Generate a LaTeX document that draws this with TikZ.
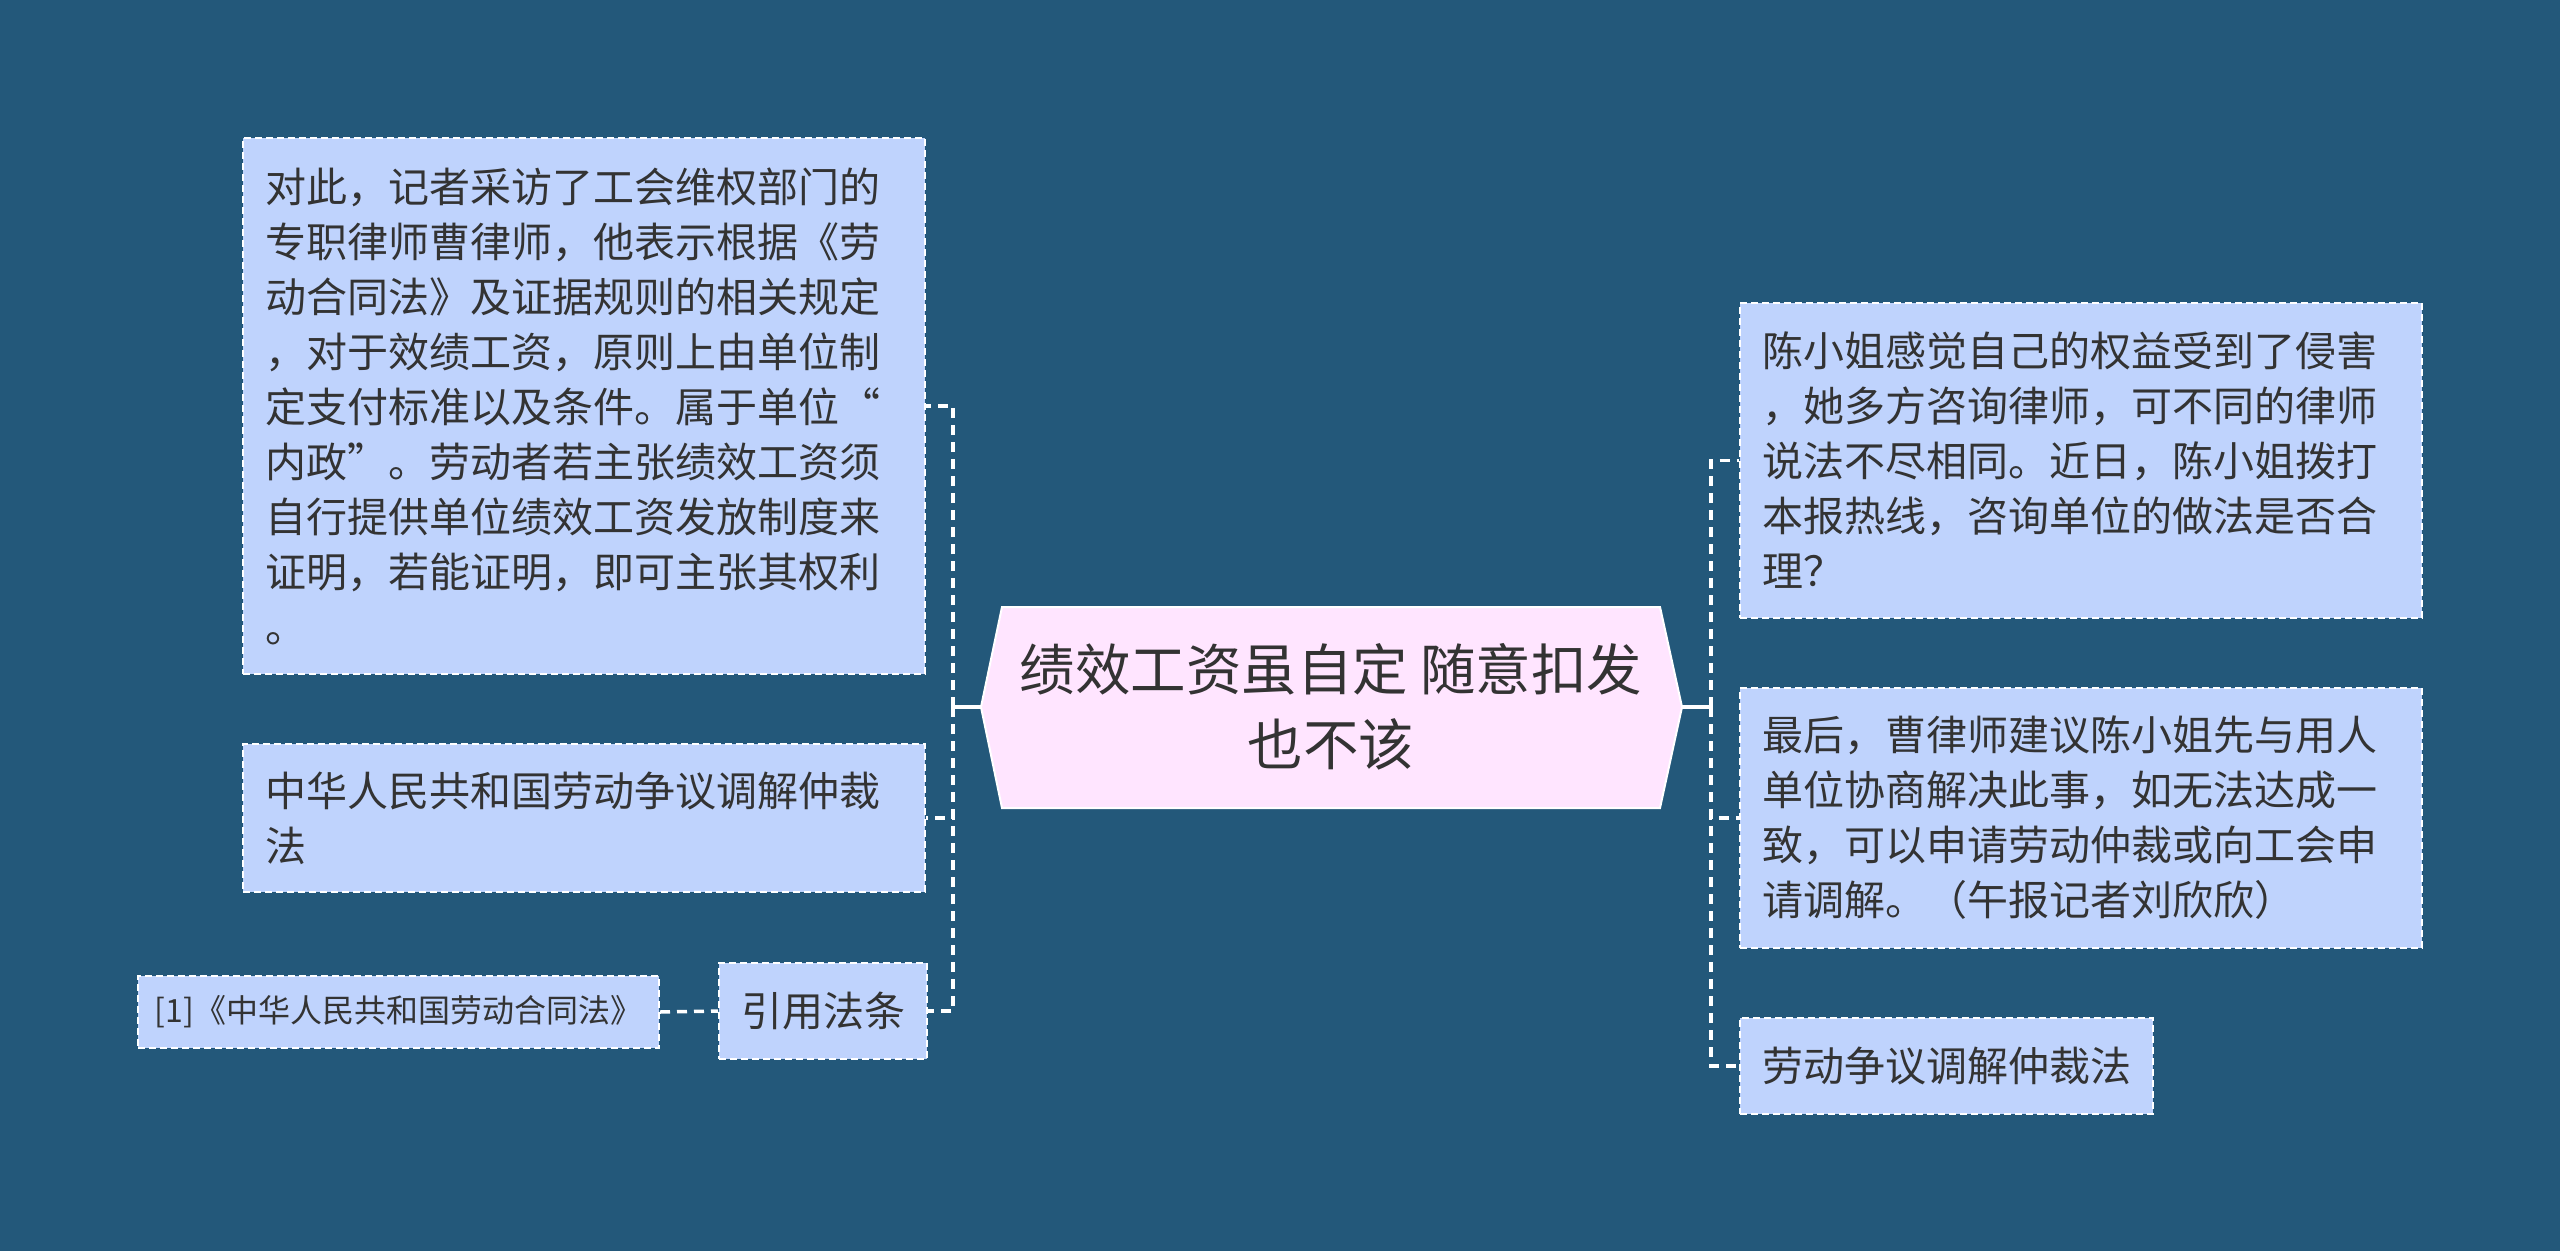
\documentclass[tikz,border=0pt]{standalone}
\usepackage{fontspec}
\setmainfont{Noto Sans CJK SC}
\definecolor{bg}{RGB}{35,88,122}
\definecolor{boxfill}{RGB}{191,211,253}
\definecolor{centerfill}{RGB}{255,229,255}
\definecolor{txt}{RGB}{51,51,51}
\tikzset{
  box/.style={draw=white, line width=2pt, dash pattern=on 7pt off 4pt, fill=boxfill, text=txt,
    inner xsep=22pt, inner ysep=0pt, anchor=north west, font=\fontsize{41}{55}\selectfont},
  multibox/.style={box, align=left, text width=638pt},
  conn/.style={draw=white, line width=3.5pt, dash pattern=on 10pt off 7pt},
  solidconn/.style={draw=white, line width=3.5pt},
}
\begin{document}
\begin{tikzpicture}[x=1pt,y=-1pt]
\fill[bg] (0,0) rectangle (2560,1251);
\useasboundingbox (0,0) rectangle (2560,1251);

% central topic
\path[fill=centerfill, draw=white, line width=2pt]
  (1002,607) -- (1660,607) -- (1682,707) -- (1660,808) -- (1002,808) -- (981,707) -- cycle;
\node[text=txt, align=center, font=\fontsize{55.5}{75}\selectfont] (c) at (1331,707)
  {绩效工资虽自定 随意扣发\\也不该};
\coordinate (cl) at (981,707);
\coordinate (cr) at (1682,707);
\coordinate (ls) at (953,707);
\coordinate (rs) at (1711,707);

% left side
\node[multibox, minimum height=536pt] (l1) at (242,137)
  {对此，记者采访了工会维权部门的\\专职律师曹律师，他表示根据《劳\\动合同法》及证据规则的相关规定\\，对于效绩工资，原则上由单位制\\定支付标准以及条件。属于单位“\\内政”。劳动者若主张绩效工资须\\自行提供单位绩效工资发放制度来\\证明，若能证明，即可主张其权利\\。};
\node[multibox, minimum height=148pt] (l2) at (242,743)
  {中华人民共和国劳动争议调解仲裁\\法};
\node[box, minimum width=206pt, minimum height=96pt] (l3) at (718,962) {引用法条};
\node[box, inner xsep=8pt, minimum width=521pt, minimum height=72pt, font=\fontsize{32}{40}\selectfont] (leaf) at (137,975)
  {[1]《中华人民共和国劳动合同法》};

% right side
\node[multibox, minimum height=315pt] (r1) at (1739,302)
  {陈小姐感觉自己的权益受到了侵害\\，她多方咨询律师，可不同的律师\\说法不尽相同。近日，陈小姐拨打\\本报热线，咨询单位的做法是否合\\理？};
\node[multibox, minimum height=260pt] (r2) at (1739,687)
  {最后，曹律师建议陈小姐先与用人\\单位协商解决此事，如无法达成一\\致，可以申请劳动仲裁或向工会申\\请调解。（午报记者刘欣欣）};
\node[box, minimum width=413pt, minimum height=96pt] (r3) at (1739,1017) {劳动争议调解仲裁法};

% connectors
\draw[solidconn] (cl) -- (ls);
\draw[solidconn] (cr) -- (rs);
\draw[conn] (ls) |- (l1.east);
\draw[conn] (ls) |- (l2.east);
\draw[conn] (ls) |- (l3.east);
\draw[conn] (rs) |- (r1.west);
\draw[conn] (rs) |- (r2.west);
\draw[conn] (rs) |- (r3.west);
\draw[conn] (leaf.east) -- (l3.west);
\end{tikzpicture}
\end{document}
